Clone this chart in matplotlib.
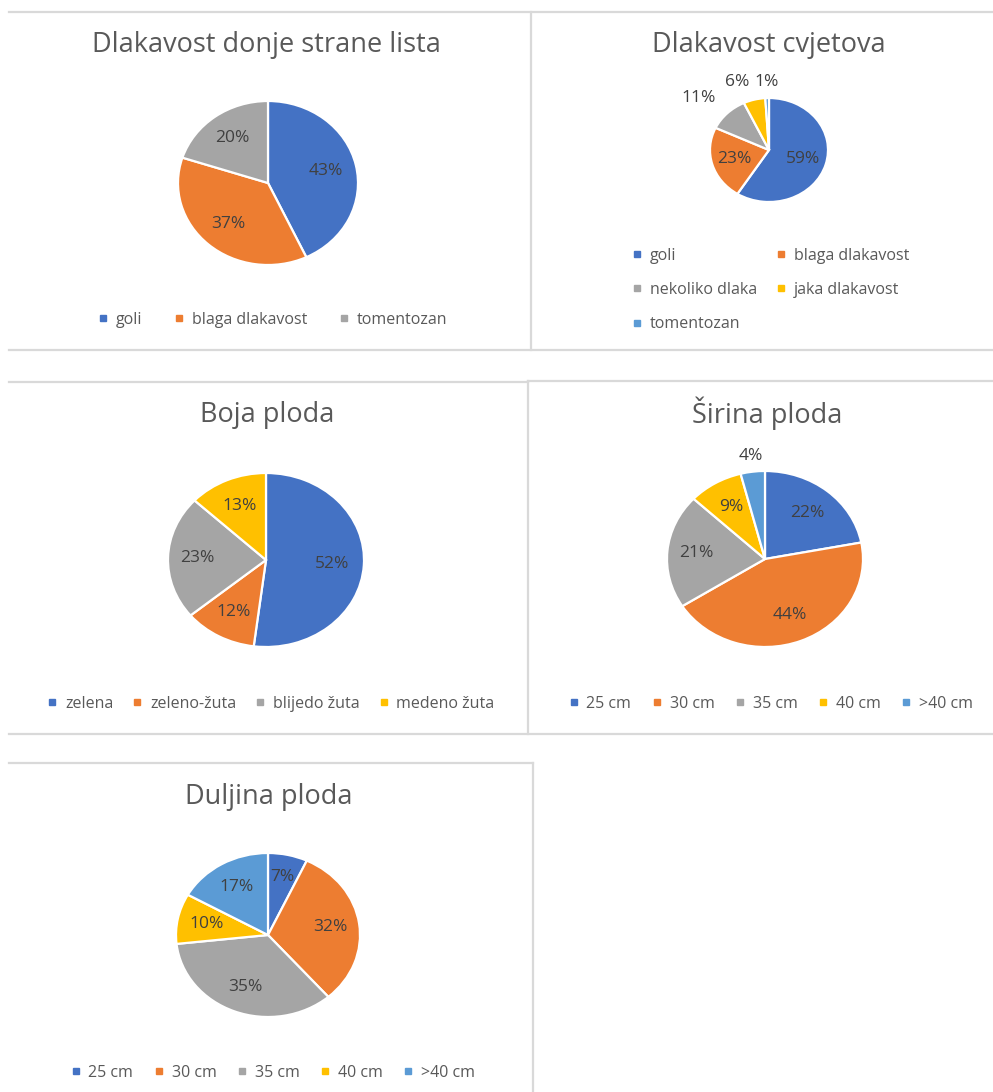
import numpy as np
import matplotlib
matplotlib.use('Agg')
import matplotlib.pyplot as plt
from matplotlib.lines import Line2D

plt.rcParams['font.family'] = ['Open Sans', 'DejaVu Sans']

W, H = 993, 1092

# Excel office palette
colors = ['#4472C4', '#ED7D31', '#A5A5A5', '#FFC000', '#5B9BD5']

# data
lista_labels = ['goli', 'blaga dlakavost', 'tomentozan']
lista_values = [43, 37, 20]

cvjet_labels = ['goli', 'blaga dlakavost', 'nekoliko dlaka', 'jaka dlakavost', 'tomentozan']
cvjet_values = [59, 23, 11, 6, 1]

boja_labels = ['zelena', 'zeleno-žuta', 'blijedo žuta', 'medeno žuta']
boja_values = [52, 12, 23, 13]

cm_labels = ['25 cm', '30 cm', '35 cm', '40 cm', '>40 cm']
sirina_values = [22, 44, 21, 9, 4]
duljina_values = [7, 32, 35, 10, 17]

fig = plt.figure(figsize=(W / 100, H / 100), dpi=100)


def fx(x):
    return x / W


def fy(y):
    return 1 - y / H


def hline(y, x0, x1):
    fig.add_artist(Line2D([fx(x0), fx(x1)], [fy(y), fy(y)], color='#D9D9D9', lw=1.6))


def vline(x, y0, y1):
    fig.add_artist(Line2D([fx(x), fx(x)], [fy(y0), fy(y1)], color='#D9D9D9', lw=1.6))


# panel borders
hline(12, 9, 993)
hline(350, 9, 993)
vline(531, 12, 350)
hline(382, 9, 528)
hline(381, 528, 993)
vline(528, 381, 734)
hline(734, 9, 993)
hline(763, 9, 533)
vline(533, 763, 1092)


def draw_pie(title, labels, values, cx, cy, rx, ry, title_xy, label_r, leg_xy,
             ncol=None, leg_order=None, angle_fix=None, colsp=2.0):
    ax = fig.add_axes([fx(cx - rx), fy(cy + ry), 2 * rx / W, 2 * ry / H])
    cols = colors[:len(values)]
    wedges, _ = ax.pie(values, colors=cols, startangle=90, counterclock=False,
                       wedgeprops=dict(edgecolor='white', linewidth=1.6))
    ax.set_aspect('auto')
    ax.set_xlim(-1, 1)
    ax.set_ylim(-1, 1)
    angle_fix = angle_fix or {}
    for i, (w, v, r) in enumerate(zip(wedges, values, label_r)):
        deg = angle_fix.get(i, (w.theta1 + w.theta2) / 2)
        ang = np.deg2rad(deg)
        ax.text(r * np.cos(ang), r * np.sin(ang), f'{v}%', ha='center', va='center',
                fontsize=12.5, color='#404040')

    fig.text(fx(title_xy[0]), fy(title_xy[1]), title, ha='center', va='center',
             fontsize=19.5, color='#595959')

    handles = [Line2D([0], [0], marker='s', ls='none', color=c, markersize=5) for c in cols]
    labs = list(labels)
    if leg_order is not None:
        handles = [handles[i] for i in leg_order]
        labs = [labs[i] for i in leg_order]
    fig.legend(handles, labs, loc='center', bbox_to_anchor=(fx(leg_xy[0]), fy(leg_xy[1])),
               ncol=ncol or len(values), frameon=False, fontsize=11.5,
               handlelength=0.6, handletextpad=0.5, columnspacing=colsp,
               labelspacing=1.15, labelcolor='#595959')


draw_pie('Dlakavost donje strane lista', lista_labels, lista_values,
         268, 183, 90, 82, (266, 45), [0.66, 0.66, 0.68], (273, 320))

draw_pie('Dlakavost cvjetova', cvjet_labels, cvjet_values,
         769, 150, 59, 52, (769, 45), [0.6, 0.62, 1.56, 1.42, 1.31], (771, 290),
         ncol=2, leg_order=[0, 2, 4, 1, 3], angle_fix={2: 140, 3: 112, 4: 92}, colsp=1.2)

draw_pie('Boja ploda', boja_labels, boja_values,
         266, 560, 98, 87, (267, 415), [0.68, 0.68, 0.7, 0.68], (271, 704), colsp=1.2)

draw_pie('Širina ploda', cm_labels, sirina_values,
         765, 559, 98, 88, (767, 413), [0.68, 0.68, 0.7, 0.68, 1.18], (771, 704), colsp=1.3)

draw_pie('Duljina ploda', cm_labels, duljina_values,
         268, 935, 92, 82, (269, 797), [0.72, 0.68, 0.68, 0.68, 0.68], (273, 1073), colsp=1.3)

fig.savefig('out.png', dpi=100, facecolor='white')
